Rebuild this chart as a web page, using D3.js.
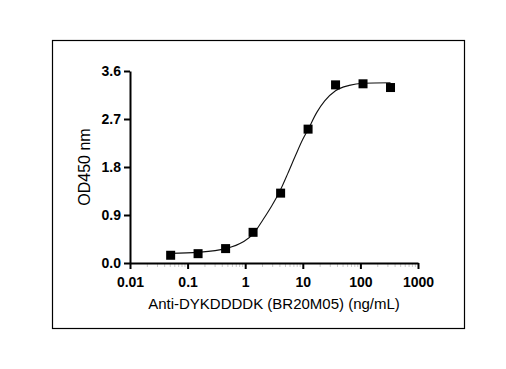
<!DOCTYPE html>
<html>
<head>
<meta charset="utf-8">
<script src="https://cdn.jsdelivr.net/npm/d3@7"></script>
<style>
  body { margin:0; background:#fff; }
  text { font-family: Arial, "Liberation Sans", sans-serif; }
</style>
</head>
<body>
<svg></svg>
<script>
var w=506;
var h=369;
var margin={top:71,bottom:106,left:130,right:88};

// measured points (ng/mL, OD450)
var conc=[0.0508,0.152,0.457,1.37,4.12,12.35,37.04,111.1,333.3];
var od=[0.145,0.175,0.27,0.575,1.31,2.51,3.34,3.36,3.29];

// fitted curve
var curveConc=[0.0508,0.152,0.457,0.927,1.37,2.06,2.88,4.05,5.5,7.5,10,12.3,17.4,24,37,64,111,333.3];
var curveOd=[0.18,0.20,0.27,0.40,0.54,0.82,1.07,1.36,1.68,2.02,2.32,2.50,2.82,3.04,3.23,3.33,3.37,3.38];

var xTickValues=[0.01,0.1,1,10,100,1000];
var xTickLabels=["0.01","0.1","1","10","100","1000"];
var yTickValues=[0,0.9,1.8,2.7,3.6];
var yTickLabels=["0.0","0.9","1.8","2.7","3.6"];

var xScale=d3.scaleLog()
             .domain([0.01,1000])
             .range([margin.left,w-margin.right]);
var yScale=d3.scaleLinear()
             .domain([0,3.6])
             .range([h-margin.bottom,margin.top]);

var svg=d3.select("svg")
          .attr("width",w)
          .attr("height",h);

// outer frame
svg.append("rect")
   .attr("x",52.5)
   .attr("y",40.5)
   .attr("width",412)
   .attr("height",288)
   .attr("fill","none")
   .attr("stroke","#000")
   .attr("stroke-width",1.2);

// faint minor ticks on x
var minor=[];
for(var e=-2;e<3;e++){
  for(var k=2;k<10;k++){ minor.push(k*Math.pow(10,e)); }
}
svg.append("g")
   .selectAll("line")
   .data(minor)
   .enter()
   .append("line")
   .attr("x1",function(d){return xScale(d);})
   .attr("x2",function(d){return xScale(d);})
   .attr("y1",h-margin.bottom+1)
   .attr("y2",h-margin.bottom+4)
   .attr("stroke","#c8c8c8")
   .attr("stroke-width",1);

var xAxis=d3.axisBottom(xScale)
            .tickValues(xTickValues)
            .tickFormat(function(d,i){return xTickLabels[i];})
            .tickSize(6)
            .tickSizeOuter(0)
            .tickPadding(8);
var yAxis=d3.axisLeft(yScale)
            .tickValues(yTickValues)
            .tickFormat(function(d,i){return yTickLabels[i];})
            .tickSize(6)
            .tickSizeOuter(0)
            .tickPadding(3);

var gx=svg.append("g")
   .attr("transform","translate(0,"+(h-margin.bottom)+")")
   .call(xAxis);
var gy=svg.append("g")
   .attr("transform","translate("+margin.left+",0)")
   .call(yAxis);

[gx,gy].forEach(function(g){
  g.select(".domain").attr("stroke","#000").attr("stroke-width",2);
  g.selectAll(".tick line").attr("stroke","#000").attr("stroke-width",2);
  g.selectAll(".tick text")
   .attr("fill","#000")
   .style("font-family","Arial, 'Liberation Sans', sans-serif")
   .style("font-size","14px")
   .style("font-weight","bold");
});

// curve
var line=d3.line()
           .x(function(d){return xScale(d[0]);})
           .y(function(d){return yScale(d[1]);})
           .curve(d3.curveMonotoneX);
svg.append("path")
   .datum(d3.zip(curveConc,curveOd))
   .attr("d",line)
   .attr("fill","none")
   .attr("stroke","#111")
   .attr("stroke-width",1.1);

// points
var s=9;
svg.append("g")
   .selectAll("rect")
   .data(d3.zip(conc,od))
   .enter()
   .append("rect")
   .attr("x",function(d){return xScale(d[0])-s/2;})
   .attr("y",function(d){return yScale(d[1])-s/2;})
   .attr("width",s)
   .attr("height",s)
   .attr("fill","#000");

// axis titles
svg.append("text")
   .attr("x",(margin.left+w-margin.right)/2)
   .attr("y",309)
   .attr("text-anchor","middle")
   .style("font-size","15px")
   .text("Anti-DYKDDDDK (BR20M05) (ng/mL)");
svg.append("text")
   .attr("transform","translate(90,"+((margin.top+h-margin.bottom)/2)+") rotate(-90)")
   .attr("text-anchor","middle")
   .style("font-size","16px")
   .text("OD450 nm");
</script>
</body>
</html>
